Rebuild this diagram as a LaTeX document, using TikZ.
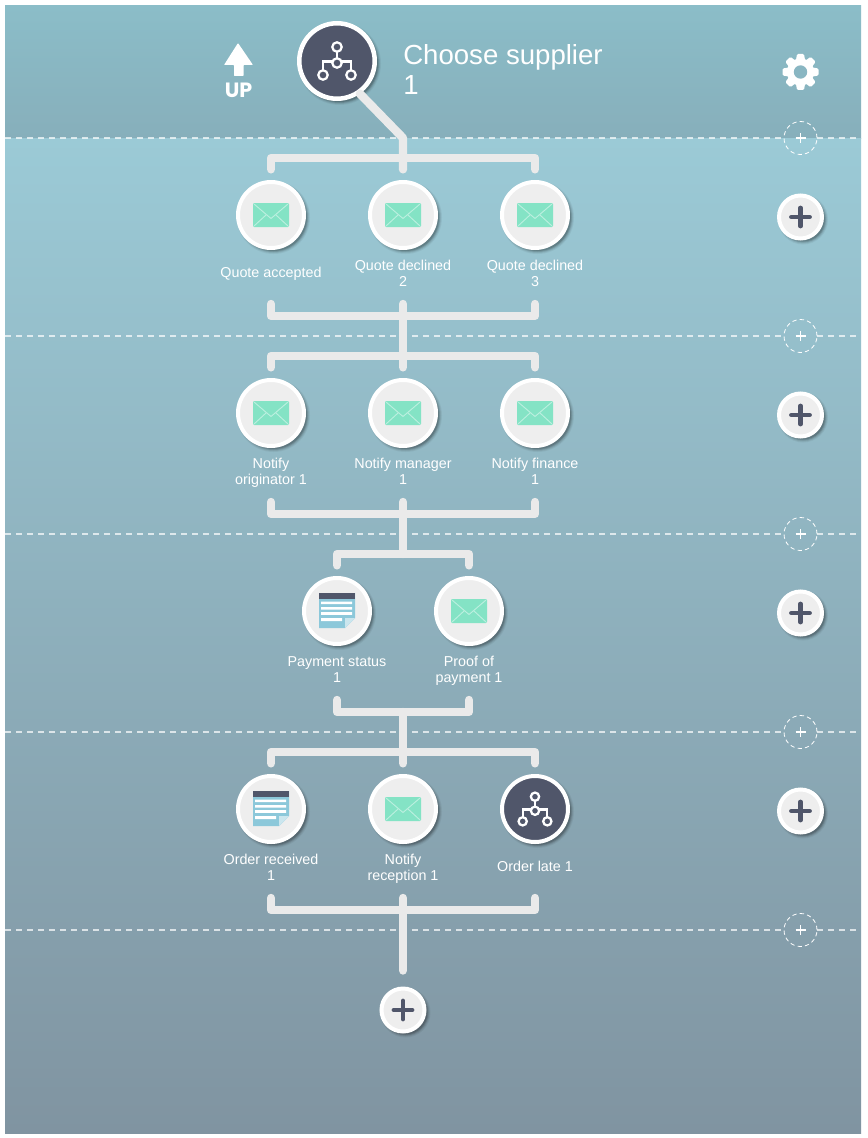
\documentclass[tikz,border=0pt]{standalone}
\usepackage{fontspec}
\setmainfont{Liberation Sans}
\newfontfamily\upfont{Poppins}
\definecolor{slate}{HTML}{50566A}
\definecolor{paper}{HTML}{EEEEEE}
\definecolor{wirec}{HTML}{EAEAEA}
\definecolor{mint}{HTML}{84E3C5}
\definecolor{docblue}{HTML}{8CC8DA}
\definecolor{rowtop}{HTML}{8BBDC8}
\definecolor{rowbot}{HTML}{87AFBB}
\definecolor{bodytop}{HTML}{9BCAD6}
\definecolor{bodybot}{HTML}{8094A1}
\definecolor{gearhole}{HTML}{89B6C2}
\tikzset{
  x=0.75pt,y=-0.75pt,
  wire/.style={draw=wirec,line width=6.3pt,line cap=round,line join=round},
  stepbox/.style={circle,draw=white,line width=3pt,fill=paper,minimum size=49.5pt,inner sep=0pt},
  gatebox/.style={circle,draw=white,line width=3pt,fill=slate,minimum size=49.5pt,inner sep=0pt},
  mainbox/.style={circle,draw=white,line width=3.4pt,fill=slate,minimum size=56.6pt,inner sep=0pt},
  addbox/.style={circle,draw=white,line width=3pt,fill=paper,minimum size=32.25pt,inner sep=0pt},
  ghostbox/.style={circle,draw=white,line width=.6pt,dash pattern=on 3.2pt off 2.4pt,minimum size=24.75pt,inner sep=0pt},
  lab/.style={text=white,align=center,font=\fontsize{10.75}{12}\selectfont,inner sep=0pt,yshift=-1.5pt},
  divider/.style={draw=white,opacity=.7,line width=.9pt,dash pattern=on 4.5pt off 3.75pt},
}
\newcommand{\softshadow}[3]{%
  \foreach \e/\o in {1.5/.05,0.5/.08,-0.5/.12,-1.5/.15}{
    \fill[black,opacity=\o] (#1+2.5,#2+2.5) circle ({#3+\e});}}
\newcommand{\envelope}[2]{%
  \begin{scope}[shift={(#1,#2)}]
    \fill[mint,rounded corners=.8pt] (-18,-12) rectangle (18,12);
    \draw[white,opacity=.45,line width=.7pt] (-17,-11) -- (0,3.5) -- (17,-11) (-17,11) -- (-5,0) (17,11) -- (5,0);
  \end{scope}}
\newcommand{\docicon}[2]{%
  \begin{scope}[shift={(#1,#2)}]
    \fill[docblue] (-18,-18) -- (18,-18) -- (18,7) -- (8,17) -- (-18,17) -- cycle;
    \fill[slate] (-18,-18) rectangle (18,-12.5);
    \fill[white] (-16,-9.5) rectangle (15,-7) (-16,-4) rectangle (15,-1.5) (-16,1.2) rectangle (15,3.8) (-16,7) rectangle (5,10);
    \fill[white!55!docblue] (8,7) -- (18,7) -- (8,17) -- cycle;
  \end{scope}}
\newcommand{\treeicon}[3]{% x y size
  \begin{scope}[shift={(#1,#2)},scale=#3]
    \draw[white,line width=1.7pt] (0,-14) -- (0,2) (-14,13) -- (-14,0.5) -- (14,0.5) -- (14,13);
    \draw[white,line width=1.7pt,fill=slate] (0,-14) circle (4.7) (0,2) circle (4.7) (-14,14) circle (4.7) (14,14) circle (4.7);
  \end{scope}}
\newcommand{\plusmark}[3]{% x y colour
  \draw[#3,line width=3.6pt,line cap=round] (#1-9,#2) -- (#1+9,#2) (#1,#2-9) -- (#1,#2+9);}
\begin{document}
\begin{tikzpicture}
\useasboundingbox (0,0) rectangle (867,1138);
\fill[white] (0,0) rectangle (867,1138);
% panel
\shade[top color=rowtop,bottom color=rowbot] (5,6) rectangle (861,138);
\shade[top color=bodytop,bottom color=bodybot] (5,138) rectangle (861,1133);
% dividers
\foreach \yy in {138,336,534,732,930}{
  \draw[divider] (5,\yy) -- (784,\yy) (817,\yy) -- (857,\yy);
}
\node[ghostbox] (g1) at (800.5,138) {};
\node[ghostbox] (g2) at (800.5,336) {};
\node[ghostbox] (g3) at (800.5,534) {};
\node[ghostbox] (g4) at (800.5,732) {};
\node[ghostbox] (g5) at (800.5,930) {};
\foreach \yy in {138,336,534,732,930}{
  \draw[white,line width=1.4pt] (795.5,\yy) -- (805.5,\yy) (800.5,\yy-5) -- (800.5,\yy+5);
}
% shadows
\foreach \xx/\yy in {271/215,403/215,535/215,271/413,403/413,535/413,337/611,469/611,271/809,403/809,535/809}{
  \softshadow{\xx}{\yy}{35}
}
\softshadow{337}{61}{40}
\foreach \xx/\yy in {800.5/217,800.5/415,800.5/613,800.5/811,403/1010}{
  \softshadow{\xx}{\yy}{23.5}
}
% head
\node[mainbox] (main) at (337,61) {};
\treeicon{337}{61}{1}
\node[anchor=west,text=white,align=left,inner sep=0pt,font=\fontsize{20.7}{22.5}\selectfont] (title) at (403,70) {Choose supplier\\1};
\fill[white,rounded corners=.5pt] (238,43) -- (253,65) -- (243.5,65) -- (243.5,76) -- (234,76) -- (234,65) -- (224,65) -- cycle;
\node[text=white,inner sep=0pt,font=\fontsize{15.5}{16}\upfont\bfseries] (up) at (238.5,90) {UP};
% gear
\foreach \a in {0,45,...,315}{
  \fill[white,rounded corners=.9pt,rotate around={\a:(800.5,72)}] (795,66) -- (797,54) -- (804,54) -- (806,66) -- cycle;
}
\fill[white] (800.5,72) circle (13.5);
\fill[gearhole] (800.5,72) circle (6.7);
% row 1
\node[stepbox] (q1) at (271,215) {};
\node[stepbox] (q2) at (403,215) {};
\node[stepbox] (q3) at (535,215) {};
\envelope{271}{215}\envelope{403}{215}\envelope{535}{215}
\node[lab] (q1t) at (271,272) {\strut Quote accepted};
\node[lab] (q2t) at (403,273) {\strut Quote declined\\\strut 2};
\node[lab] (q3t) at (535,273) {\strut Quote declined\\\strut 3};
% row 2
\node[lab] (n1t) at (271,471) {\strut Notify\\\strut originator 1};
\node[lab] (n2t) at (403,471) {\strut Notify manager\\\strut 1};
\node[lab] (n3t) at (535,471) {\strut Notify finance\\\strut 1};
\node[stepbox] (n1) at (271,413) {};
\node[stepbox] (n2) at (403,413) {};
\node[stepbox] (n3) at (535,413) {};
\envelope{271}{413}\envelope{403}{413}\envelope{535}{413}
% row 3
\node[stepbox] (p1) at (337,611) {};
\node[stepbox] (p2) at (469,611) {};
\docicon{337}{611}\envelope{469}{611}
\node[lab] (p1t) at (337,669) {\strut Payment status\\\strut 1};
\node[lab] (p2t) at (469,669) {\strut Proof of\\\strut payment 1};
% row 4
\node[stepbox] (o1) at (271,809) {};
\node[stepbox] (o2) at (403,809) {};
\node[gatebox] (o3) at (535,809) {};
\docicon{271}{809}\envelope{403}{809}\treeicon{535}{809}{.88}
\node[lab] (o1t) at (271,867) {\strut Order received\\\strut 1};
\node[lab] (o2t) at (403,867) {\strut Notify\\\strut reception 1};
\node[lab] (o3t) at (535,866) {\strut Order late 1};
% add buttons
\node[addbox] (a1) at (800.5,217) {};
\node[addbox] (a2) at (800.5,415) {};
\node[addbox] (a3) at (800.5,613) {};
\node[addbox] (a4) at (800.5,811) {};
\node[addbox] (a5) at (403,1010) {};
\plusmark{800.5}{217}{slate}\plusmark{800.5}{415}{slate}\plusmark{800.5}{613}{slate}\plusmark{800.5}{811}{slate}\plusmark{403}{1010}{slate}
% connectors
\coordinate (k0) at (403,138);
\draw[wire,shorten >=8pt] (main.-55) -- (k0) -- (q2.north);
\foreach \cl/\cr/\yy in {q1/q3/158,n1/n3/356,p1/p2/554,o1/o3/752}{
  \draw[wire,shorten <=8pt,shorten >=8pt] (\cl.north) -- (\cl.north |- 0,\yy) -- (\cr.north |- 0,\yy) -- (\cr.north);
}
\foreach \cl/\cr/\yy in {q1/q3/316,n1/n3/514,p1/p2/712,o1/o3/910}{
  \coordinate (sl) at (\cl.south |- 0,\yy-12);
  \coordinate (sr) at (\cr.south |- 0,\yy-12);
  \draw[wire] (sl) -- (\cl.south |- 0,\yy) -- (\cr.south |- 0,\yy) -- (sr);
}
\coordinate (s1) at (403,304);
\draw[wire,shorten >=8pt] (s1) -- (n2.north);
\coordinate (s2) at (403,502);
\coordinate (e2) at (403,554);
\draw[wire] (s2) -- (e2);
\coordinate (s3) at (403,712);
\draw[wire,shorten >=8pt] (s3) -- (o2.north);
\coordinate (s4) at (403,898);
\draw[wire,shorten >=12pt] (s4) -- (a5.north);
\end{tikzpicture}
\end{document}
